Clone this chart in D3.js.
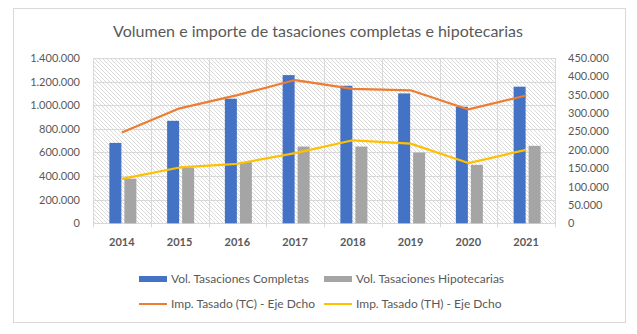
<!DOCTYPE html>
<html><head><meta charset="utf-8">
<script src="https://cdn.jsdelivr.net/npm/d3@7"></script>
<style>body{margin:0;background:#fff}svg{display:block;font-family:Lato,"Open Sans",sans-serif}</style>
</head><body><svg id="c" width="637" height="334"></svg>
<script>
const years = ["2014","2015","2016","2017","2018","2019","2020","2021"];
const volCompletas = [681000,868000,1055000,1255000,1165000,1100000,987000,1157000];
const volHipotecarias = [378000,472000,520000,650000,650000,599000,495000,656000];
const impTC = [247000,313000,349000,390000,366000,362000,310000,348000];
const impTH = [121000,152000,162000,191000,226000,217000,164000,200000];
const leftTicks = [0,200000,400000,600000,800000,1000000,1200000,1400000];
const rightTicks = [0,50000,100000,150000,200000,250000,300000,350000,400000,450000];
const seriesNames = ["Vol. Tasaciones Completas","Vol. Tasaciones Hipotecarias","Imp. Tasado (TC) - Eje Dcho","Imp. Tasado (TH) - Eje Dcho"];
const colors = ["#4472C4","#A5A5A5","#ED7D31","#FFC000"];

const svg = d3.select("#c");
const fmt = v => d3.format(",")(v).replace(/,/g,".");
const L=93, R=555, T=58, B=223.3;

svg.append("rect").attr("x",13.5).attr("y",8.5).attr("width",612).attr("height",314)
  .attr("fill","#fff").attr("stroke","#D9D9D9");

const defs = svg.append("defs");
const pat = defs.append("pattern").attr("id","hatch").attr("patternUnits","userSpaceOnUse")
  .attr("width",4).attr("height",4);
pat.append("rect").attr("width",4).attr("height",4).attr("fill","#fff");
pat.append("path").attr("d","M-1,-1 L5,5 M-1,3 L1,5 M3,-1 L5,1").attr("stroke","#D6D6D6").attr("stroke-width",0.9);

svg.append("text").attr("x",318).attr("y",37).attr("text-anchor","middle")
  .attr("fill","#595959").attr("font-size",16).attr("font-weight",400)
  .text("Volumen e importe de tasaciones completas e hipotecarias");

const x = d3.scaleBand().domain(years).range([L,R]);
const yL = d3.scaleLinear().domain([0,1400000]).range([B,T]);
const yR = d3.scaleLinear().domain([0,450000]).range([B,T]);

svg.append("rect").attr("x",L).attr("y",T).attr("width",R-L).attr("height",B-T).attr("fill","url(#hatch)");

svg.append("g").selectAll("line").data(leftTicks.slice(1)).join("line")
  .attr("x1",L).attr("x2",R).attr("y1",d=>Math.round(yL(d))+0.5).attr("y2",d=>Math.round(yL(d))+0.5)
  .attr("stroke","#D9D9D9").attr("stroke-width",1);
const bounds = years.map(y=>x(y)).concat([R]);
svg.append("g").selectAll("line").data(bounds).join("line")
  .attr("x1",d=>Math.round(d)+0.5).attr("x2",d=>Math.round(d)+0.5).attr("y1",T).attr("y2",B+4)
  .attr("stroke","#D9D9D9");
svg.append("line").attr("x1",L).attr("x2",R).attr("y1",Math.round(B)+0.5).attr("y2",Math.round(B)+0.5).attr("stroke","#D9D9D9");

const axL = d3.axisLeft(yL).tickValues(leftTicks).tickFormat(fmt).tickSize(0).tickPadding(13);
const gL = svg.append("g").attr("transform",`translate(${L},0)`).call(axL);
const axR = d3.axisRight(yR).tickValues(rightTicks).tickFormat(fmt).tickSize(0).tickPadding(13);
const gR = svg.append("g").attr("transform",`translate(${R},0)`).call(axR);
const axB = d3.axisBottom(x).tickSize(0).tickPadding(15);
const gB = svg.append("g").attr("transform",`translate(0,${B})`).call(axB);
[gL,gR,gB].forEach(g=>{g.select(".domain").remove();g.selectAll("text").attr("fill","#595959").attr("font-size",11).attr("font-family","Lato,sans-serif");});
gB.selectAll("text").attr("font-weight",700);

const bw = 12;
svg.append("g").selectAll("rect").data(years).join("rect")
  .attr("x",d=>x(d)+x.bandwidth()/2-12.5).attr("width",bw)
  .attr("y",(d,i)=>yL(volCompletas[i])).attr("height",(d,i)=>B-yL(volCompletas[i])).attr("fill",colors[0]);
svg.append("g").selectAll("rect").data(years).join("rect")
  .attr("x",d=>x(d)+x.bandwidth()/2+2.5).attr("width",bw)
  .attr("y",(d,i)=>yL(volHipotecarias[i])).attr("height",(d,i)=>B-yL(volHipotecarias[i])).attr("fill",colors[1]);

const cx = d=>x(d)+x.bandwidth()/2;
const lineGen = d3.line().x((d,i)=>cx(years[i])).y(d=>yR(d));
svg.append("path").datum(impTC).attr("d",lineGen).attr("fill","none").attr("stroke",colors[2]).attr("stroke-width",2.2).attr("stroke-linejoin","round");
svg.append("path").datum(impTH).attr("d",lineGen).attr("fill","none").attr("stroke",colors[3]).attr("stroke-width",2.2).attr("stroke-linejoin","round");

const leg = [
  {x:139,y:279,t:"rect"},{x:324,y:279,t:"rect"},{x:139,y:304,t:"line"},{x:324,y:304,t:"line"}];
leg.forEach((l,i)=>{
  const g = svg.append("g");
  if(l.t==="rect") g.append("rect").attr("x",l.x).attr("y",l.y-3).attr("width",28).attr("height",6).attr("fill",colors[i]);
  else g.append("line").attr("x1",l.x).attr("x2",l.x+28).attr("y1",l.y).attr("y2",l.y).attr("stroke",colors[i]).attr("stroke-width",2);
  g.append("text").attr("x",l.x+32).attr("y",l.y+4).attr("fill","#595959").attr("font-size",12).text(seriesNames[i]);
});
</script></body></html>
